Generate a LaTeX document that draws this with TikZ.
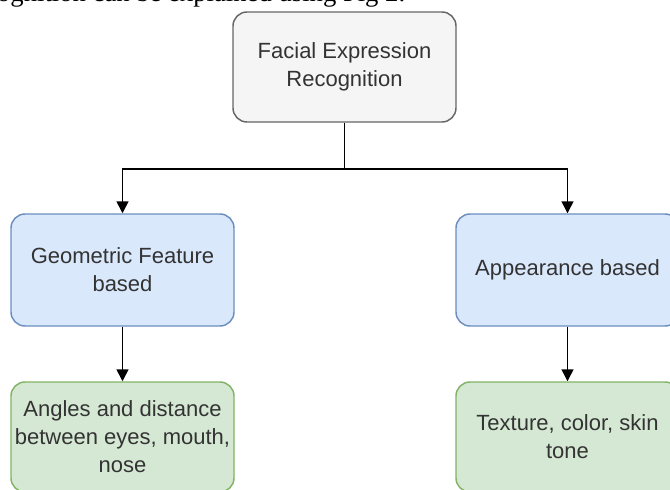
\documentclass[tikz,border=0pt]{standalone}
\usepackage{fontspec}
\setmainfont{Liberation Sans}
\newfontfamily\capfont{Liberation Serif}
\usetikzlibrary{arrows.meta}
\definecolor{grayfill}{HTML}{F5F5F5}
\definecolor{graystroke}{HTML}{666666}
\definecolor{bluefill}{HTML}{DAE8FC}
\definecolor{bluestroke}{HTML}{6C8EBF}
\definecolor{greenfill}{HTML}{D5E8D4}
\definecolor{greenstroke}{HTML}{82B366}
\definecolor{txt}{HTML}{333333}
\tikzset{
  box/.style={draw, rounded corners=10.5pt, line width=1.1pt, align=center,
    minimum width=167.25pt, minimum height=82.5pt, inner sep=2pt, text=txt,
    font=\fontsize{16.5}{21}\selectfont},
  graybox/.style={box, fill=grayfill, draw=graystroke},
  bluebox/.style={box, fill=bluefill, draw=bluestroke, minimum height=84pt},
  greenbox/.style={box, fill=greenfill, draw=greenstroke},
  arr/.style={draw=black, line width=1.1pt, -{Triangle[length=9pt,width=9pt]}}
}
\begin{document}
\begin{tikzpicture}[x=0.75pt,y=-0.75pt]
\useasboundingbox (0,0) rectangle (670,489);
\clip (0,0) rectangle (670,489);
\fill[white] (0,0) rectangle (670,489);
\node[anchor=base west, inner sep=0, font=\capfont\fontsize{20}{24}\selectfont] (cap) at (-15,2) {cognition can be explained using Fig 2.};
\node[graybox] (fer) at (344.5,67) {Facial Expression\\Recognition};
\node[bluebox] (geo) at (122.5,270) {Geometric Feature\\based};
\node[bluebox] (app) at (567.5,270) {Appearance based};
\node[greenbox] (geoleaf) at (122.5,437) {Angles and distance\\between eyes, mouth,\\nose};
\node[greenbox] (appleaf) at (567.5,437) {Texture, color, skin\\tone};
\coordinate (junc) at (344.5,169);
\draw[line width=1.1pt] (fer.south) -- (junc);
\draw[arr] (junc) -| (geo.north);
\draw[arr] (junc) -| (app.north);
\draw[arr] (geo.south) -- (geoleaf.north);
\draw[arr] (app.south) -- (appleaf.north);
\end{tikzpicture}
\end{document}
